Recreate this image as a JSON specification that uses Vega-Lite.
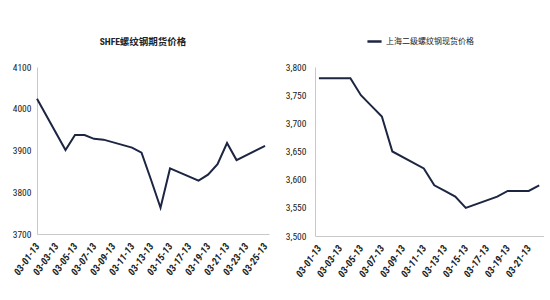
{
  "$schema": "https://vega.github.io/schema/vega-lite/v6.json",
  "autosize": {"type": "pad"},
  "padding": {"left": 12, "top": 33, "right": 0, "bottom": 0},
  "background": "white",
  "bounds": "flush",
  "spacing": 46,
  "resolve": {"legend": {"color": "independent"}},
  "config": {
    "view": {"stroke": null},
    "font": "Liberation Sans Narrow, Roboto Condensed, Arial Narrow, Liberation Sans, Noto Sans CJK SC",
    "axis": {
      "grid": false,
      "ticks": false,
      "domainColor": "#c8c8c8",
      "domainWidth": 1,
      "labelColor": "#222222",
      "labelFontSize": 9.5,
      "labelFont": "Liberation Sans Narrow, Roboto Condensed, Arial Narrow, Liberation Sans",
      "title": null
    }
  },
  "datasets": {
    "futures": [
      {"date": "2013-03-01", "price": 4024},
      {"date": "2013-03-04", "price": 3901},
      {"date": "2013-03-05", "price": 3937},
      {"date": "2013-03-06", "price": 3937},
      {"date": "2013-03-07", "price": 3928},
      {"date": "2013-03-08", "price": 3926},
      {"date": "2013-03-11", "price": 3907},
      {"date": "2013-03-12", "price": 3895},
      {"date": "2013-03-13", "price": 3830},
      {"date": "2013-03-14", "price": 3763},
      {"date": "2013-03-15", "price": 3857},
      {"date": "2013-03-18", "price": 3828},
      {"date": "2013-03-19", "price": 3842},
      {"date": "2013-03-20", "price": 3867},
      {"date": "2013-03-21", "price": 3918},
      {"date": "2013-03-22", "price": 3877},
      {"date": "2013-03-25", "price": 3911}
    ],
    "spot": [
      {"date": "2013-03-01", "price": 3780, "series": "上海二级螺纹钢现货价格"},
      {"date": "2013-03-04", "price": 3780, "series": "上海二级螺纹钢现货价格"},
      {"date": "2013-03-05", "price": 3750, "series": "上海二级螺纹钢现货价格"},
      {"date": "2013-03-06", "price": 3731, "series": "上海二级螺纹钢现货价格"},
      {"date": "2013-03-07", "price": 3712, "series": "上海二级螺纹钢现货价格"},
      {"date": "2013-03-08", "price": 3650, "series": "上海二级螺纹钢现货价格"},
      {"date": "2013-03-11", "price": 3620, "series": "上海二级螺纹钢现货价格"},
      {"date": "2013-03-12", "price": 3590, "series": "上海二级螺纹钢现货价格"},
      {"date": "2013-03-13", "price": 3580, "series": "上海二级螺纹钢现货价格"},
      {"date": "2013-03-14", "price": 3570, "series": "上海二级螺纹钢现货价格"},
      {"date": "2013-03-15", "price": 3550, "series": "上海二级螺纹钢现货价格"},
      {"date": "2013-03-18", "price": 3570, "series": "上海二级螺纹钢现货价格"},
      {"date": "2013-03-19", "price": 3580, "series": "上海二级螺纹钢现货价格"},
      {"date": "2013-03-20", "price": 3580, "series": "上海二级螺纹钢现货价格"},
      {"date": "2013-03-21", "price": 3580, "series": "上海二级螺纹钢现货价格"},
      {"date": "2013-03-22", "price": 3590, "series": "上海二级螺纹钢现货价格"}
    ]
  },
  "hconcat": [
    {
      "width": 232,
      "height": 167,
      "data": {"name": "futures"},
      "title": {
        "text": "SHFE螺纹钢期货价格",
        "frame": "group",
        "anchor": "middle",
        "dx": -10,
        "offset": 8,
        "baseline": "alphabetic",
        "fontSize": 9.5,
        "fontWeight": "bold",
        "color": "#222222",
        "font": "Liberation Sans Narrow, Roboto Condensed, Arial Narrow, Liberation Sans, Noto Sans CJK SC"
      },
      "mark": {"type": "line", "color": "#1c2541", "strokeWidth": 2},
      "encoding": {
        "x": {
          "field": "date",
          "type": "temporal",
          "scale": {
            "type": "utc",
            "domain": [
              {"year": 2013, "month": 3, "date": 1, "utc": true},
              {"year": 2013, "month": 3, "date": 25, "hours": 10, "utc": true}
            ]
          },
          "axis": {
            "tickCount": {"interval": "day", "step": 2},
            "format": "%m-%d-%y",
            "labelAngle": -55,
            "labelAlign": "right",
            "labelBaseline": "middle",
            "labelPadding": 10,
            "labelOverlap": false,
            "labelFontStyle": "italic",
            "labelFontWeight": "bold",
            "labelFontSize": 10
          }
        },
        "y": {
          "field": "price",
          "type": "quantitative",
          "scale": {"domain": [3700, 4100], "nice": false, "zero": false},
          "axis": {"values": [3700, 3800, 3900, 4000, 4100], "format": "d", "labelPadding": 6}
        }
      }
    },
    {
      "width": 229,
      "height": 169,
      "data": {"name": "spot"},
      "mark": {"type": "line", "strokeWidth": 2},
      "encoding": {
        "x": {
          "field": "date",
          "type": "temporal",
          "scale": {
            "type": "utc",
            "domain": [
              {"year": 2013, "month": 2, "date": 28, "hours": 15, "utc": true},
              {"year": 2013, "month": 3, "date": 22, "hours": 11, "utc": true}
            ]
          },
          "axis": {
            "tickCount": {"interval": "day", "step": 2},
            "format": "%m-%d-%y",
            "labelAngle": -55,
            "labelAlign": "right",
            "labelBaseline": "middle",
            "labelPadding": 10,
            "labelOverlap": false,
            "labelFontStyle": "italic",
            "labelFontWeight": "bold",
            "labelFontSize": 10
          }
        },
        "y": {
          "field": "price",
          "type": "quantitative",
          "scale": {"domain": [3500, 3800], "nice": false, "zero": false},
          "axis": {"values": [3500, 3550, 3600, 3650, 3700, 3750, 3800], "format": ",d", "labelPadding": 9}
        },
        "color": {
          "field": "series",
          "type": "nominal",
          "scale": {"range": ["#1c2541"]},
          "legend": {
            "orient": "none",
            "legendX": 51,
            "legendY": -34,
            "direction": "horizontal",
            "title": null,
            "padding": 0,
            "symbolType": "stroke",
            "symbolSize": 200,
            "symbolStrokeWidth": 2.5,
            "labelFontSize": 8,
            "labelColor": "#222222",
            "labelOffset": 3,
            "labelFont": "Noto Sans CJK SC"
          }
        }
      }
    }
  ]
}
